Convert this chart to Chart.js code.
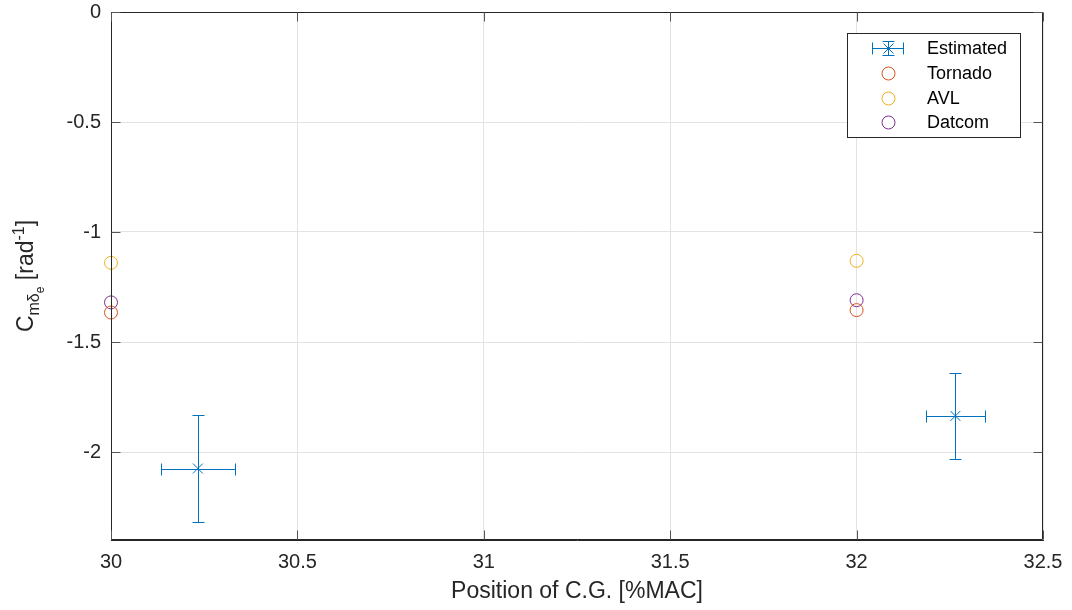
<!DOCTYPE html>
<html><head><meta charset="utf-8">
<script src="https://cdn.jsdelivr.net/npm/chart.js@4.4.1/dist/chart.umd.min.js"></script>
<style>html,body{margin:0;padding:0;background:#fff;} #wrap{width:1072px;height:610px;position:relative;}</style>
</head><body><div id="wrap"><canvas id="c" width="1072" height="610"></canvas></div>
<script>
const xTickValues = [30, 30.5, 31, 31.5, 32, 32.5];
const yTickValues = [0, -0.5, -1, -1.5, -2];
const estimatedX = [30.233, 32.265];
const estimatedY = [-2.075, -1.836];
const estimatedXErr = [0.1, 0.08];
const estimatedYErr = [0.245, 0.195];
const refX = [30, 32];
const tornadoY = [-1.366, -1.355];
const avlY = [-1.140, -1.131];
const datcomY = [-1.320, -1.310];
const seriesNames = ['Estimated', 'Tornado', 'AVL', 'Datcom'];
const seriesColors = ['#0072BD', '#D95319', '#EDB120', '#7E2F8E'];
const xAxisTitle = 'Position of C.G. [%MAC]';

const FONT = "'Liberation Sans', Arial, Helvetica, sans-serif";
const AX = '#262626';

function pts(xs, ys) { return xs.map((x, i) => ({x: x, y: ys[i]})); }

const datasets = [
  {label: seriesNames[0], data: pts(estimatedX, estimatedY), xErr: estimatedXErr, yErr: estimatedYErr, errColor: seriesColors[0],
   pointStyle: 'crossRot', pointRadius: 7, borderWidth: 1, borderColor: seriesColors[0], backgroundColor: seriesColors[0], showLine: false},
  {label: seriesNames[1], data: pts(refX, tornadoY), pointStyle: 'circle', pointRadius: 6.5, borderWidth: 1,
   borderColor: seriesColors[1], backgroundColor: 'rgba(0,0,0,0)', showLine: false},
  {label: seriesNames[2], data: pts(refX, avlY), pointStyle: 'circle', pointRadius: 6.5, borderWidth: 1,
   borderColor: seriesColors[2], backgroundColor: 'rgba(0,0,0,0)', showLine: false},
  {label: seriesNames[3], data: pts(refX, datcomY), pointStyle: 'circle', pointRadius: 6.5, borderWidth: 1,
   borderColor: seriesColors[3], backgroundColor: 'rgba(0,0,0,0)', showLine: false}
];

const decor = {
  id: 'decor',
  afterDatasetsDraw(chart) {
    const ctx = chart.ctx, xs = chart.scales.x, ys = chart.scales.y;
    chart.data.datasets.forEach(ds => {
      if (!ds.xErr) return;
      ds.data.forEach((p, i) => {
        ctx.save();
        ctx.strokeStyle = ds.errColor; ctx.lineWidth = 1;
        const cx = Math.round(xs.getPixelForValue(p.x)) + 0.5;
        const cy = Math.round(ys.getPixelForValue(p.y)) + 0.5;
        const xl = Math.round(xs.getPixelForValue(p.x - ds.xErr[i])) + 0.5;
        const xr = Math.round(xs.getPixelForValue(p.x + ds.xErr[i])) + 0.5;
        const yt = Math.round(ys.getPixelForValue(p.y + ds.yErr[i])) + 0.5;
        const yb = Math.round(ys.getPixelForValue(p.y - ds.yErr[i])) + 0.5;
        const cap = 6;
        ctx.beginPath();
        ctx.moveTo(xl, cy); ctx.lineTo(xr, cy);
        ctx.moveTo(xl, cy - cap); ctx.lineTo(xl, cy + cap);
        ctx.moveTo(xr, cy - cap); ctx.lineTo(xr, cy + cap);
        ctx.moveTo(cx, yt); ctx.lineTo(cx, yb);
        ctx.moveTo(cx - cap, yt); ctx.lineTo(cx + cap, yt);
        ctx.moveTo(cx - cap, yb); ctx.lineTo(cx + cap, yb);
        ctx.stroke();
        ctx.restore();
      });
    });
  },
  afterDraw(chart) {
    const ctx = chart.ctx, a = chart.chartArea, xs = chart.scales.x, ys = chart.scales.y;
    ctx.save();
    ctx.strokeStyle = AX; ctx.lineWidth = 1;
    const L = Math.round(a.left) + 0.5, R = Math.round(a.right) - 0.5, T = Math.round(a.top) + 0.5, B = Math.round(a.bottom) - 0.5;
    ctx.beginPath();
    ctx.moveTo(L, T); ctx.lineTo(R, T); ctx.lineTo(R, B); ctx.lineTo(L, B); ctx.closePath();
    ctx.stroke();
    const tl = 9;
    ctx.strokeStyle = '#555';
    ctx.beginPath();
    xs.ticks.forEach(t => {
      const px = Math.round(xs.getPixelForValue(t.value)) + 0.5;
      ctx.moveTo(px, B); ctx.lineTo(px, B - tl);
      ctx.moveTo(px, T); ctx.lineTo(px, T + tl);
    });
    ys.ticks.forEach(t => {
      const py = Math.round(ys.getPixelForValue(t.value)) + 0.5;
      ctx.moveTo(L, py); ctx.lineTo(L + tl, py);
      ctx.moveTo(R, py); ctx.lineTo(R - tl, py);
    });
    ctx.stroke();

    const parts = [
      {t: 'C', s: 23, dy: 0},
      {t: 'm\u03B4', s: 16, dy: 6},
      {t: 'e', s: 12, dy: 11},
      {t: ' [rad', s: 23, dy: 0},
      {t: '-1', s: 16, dy: -9},
      {t: ']', s: 23, dy: 0}
    ];
    let w = 0;
    parts.forEach(p => { ctx.font = p.s + 'px ' + FONT; p.w = ctx.measureText(p.t).width; w += p.w; });
    ctx.translate(33, (a.top + a.bottom) / 2);
    ctx.rotate(-Math.PI / 2);
    ctx.fillStyle = AX; ctx.textBaseline = 'alphabetic'; ctx.textAlign = 'left';
    let x = -w / 2;
    parts.forEach(p => { ctx.font = p.s + 'px ' + FONT; ctx.fillText(p.t, x, p.dy); x += p.w; });
    ctx.restore();

    ctx.save();
    const bx = 847.5, by = 33.5, bw = 173, bh = 104;
    ctx.fillStyle = '#fff'; ctx.fillRect(bx, by, bw, bh);
    ctx.strokeStyle = AX; ctx.lineWidth = 1; ctx.strokeRect(bx, by, bw, bh);
    const rows = [48.5, 73.5, 98.5, 122.5];
    const sx = 888.5;
    chart.data.datasets.forEach((ds, i) => {
      const y = rows[i];
      ctx.strokeStyle = seriesColors[i]; ctx.lineWidth = 1;
      if (ds.xErr) {
        ctx.beginPath();
        ctx.moveTo(872, y); ctx.lineTo(904, y);
        ctx.moveTo(872.5, y - 6); ctx.lineTo(872.5, y + 6);
        ctx.moveTo(903.5, y - 6); ctx.lineTo(903.5, y + 6);
        ctx.moveTo(sx, y - 7); ctx.lineTo(sx, y + 7);
        ctx.moveTo(sx - 6, y - 7); ctx.lineTo(sx + 6, y - 7);
        ctx.moveTo(sx - 6, y + 7); ctx.lineTo(sx + 6, y + 7);
        ctx.moveTo(sx - 5, y - 5); ctx.lineTo(sx + 5, y + 5);
        ctx.moveTo(sx - 5, y + 5); ctx.lineTo(sx + 5, y - 5);
        ctx.stroke();
      } else {
        ctx.beginPath(); ctx.arc(sx, y, 6.5, 0, Math.PI * 2); ctx.stroke();
      }
      ctx.fillStyle = '#000'; ctx.font = '18px ' + FONT; ctx.textBaseline = 'middle'; ctx.textAlign = 'left';
      ctx.fillText(ds.label, 927, y + 1);
    });
    ctx.restore();
  }
};

new Chart(document.getElementById('c'), {
  type: 'scatter',
  data: {datasets: datasets},
  plugins: [decor],
  options: {
    responsive: false, animation: false, devicePixelRatio: 1,
    clip: false,
    layout: {padding: {top: 12, right: 29, left: 0, bottom: 0}},
    plugins: {legend: {display: false}, tooltip: {enabled: false}},
    scales: {
      x: {
        type: 'linear', min: 30, max: 32.5,
        afterBuildTicks: s => { s.ticks = xTickValues.map(v => ({value: v})); },
        afterFit: s => { s.height = 70; s.paddingLeft = 0; s.paddingRight = 0; },
        ticks: {font: {family: FONT, size: 20}, color: AX, padding: 10, maxRotation: 0, autoSkip: false, callback: v => String(v)},
        grid: {color: '#e3e3e3', drawTicks: false},
        border: {color: AX, width: 1},
        title: {display: true, text: xAxisTitle, font: {family: FONT, size: 23}, color: AX, padding: {top: 0, bottom: 5}}
      },
      y: {
        type: 'linear', min: -2.4, max: 0,
        afterBuildTicks: s => { s.ticks = yTickValues.map(v => ({value: v})); },
        afterFit: s => { s.width = 111; s.paddingTop = 0; s.paddingBottom = 0; },
        ticks: {font: {family: FONT, size: 20}, color: AX, padding: 10, autoSkip: false, callback: v => String(v)},
        grid: {color: '#e3e3e3', drawTicks: false},
        border: {color: AX, width: 1}
      }
    }
  }
});
</script></body></html>
